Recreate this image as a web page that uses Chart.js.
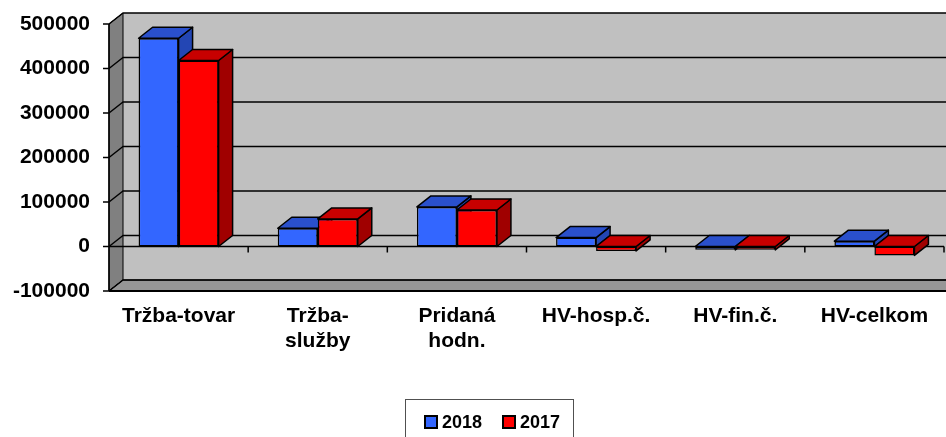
<!DOCTYPE html>
<html>
<head>
<meta charset="utf-8">
<script src="https://cdn.jsdelivr.net/npm/chart.js@4.4.1/dist/chart.umd.min.js"></script>
<style>
  html, body { margin: 0; padding: 0; background: #fff; }
  #chart { display: block; }
</style>
</head>
<body>
<canvas id="chart" width="946" height="437"></canvas>
<script>
const categories = [['Tržba-tovar'], ['Tržba-', 'služby'], ['Pridaná', 'hodn.'], ['HV-hosp.č.'], ['HV-fin.č.'], ['HV-celkom']];
const values2018 = [468000, 41000, 89000, 20000, -7500, 12000];
const values2017 = [418000, 62000, 82000, -10000, -7500, -20000];
const yTicks = [-100000, 0, 100000, 200000, 300000, 400000, 500000];
const seriesNames = ['2018', '2017'];

const FONT = '"Liberation Sans", Arial, sans-serif';
const DX = 14, DY = -11; // depth of the fake 3D box
const faces = [
    { front: '#3366ff', top: '#2a50cc', side: '#2346b4' },
    { front: '#ff0000', top: '#c80000', side: '#a00000' }
];

function poly(ctx, pts, fill) {
    ctx.beginPath();
    ctx.moveTo(pts[0][0], pts[0][1]);
    for (let i = 1; i < pts.length; i++) ctx.lineTo(pts[i][0], pts[i][1]);
    ctx.closePath();
    if (fill) { ctx.fillStyle = fill; ctx.fill(); }
    ctx.stroke();
}

// walls, floor, gridlines and the depth faces of the bars
const box3d = {
    id: 'box3d',
    beforeDatasetsDraw(chart) {
        const ctx = chart.ctx;
        const a = chart.chartArea;
        const y = chart.scales.y, x = chart.scales.x;
        const W = chart.width + 20;
        ctx.save();
        ctx.strokeStyle = '#000';
        ctx.lineJoin = 'round';

        // back wall
        ctx.fillStyle = '#c0c0c0';
        ctx.fillRect(a.left + DX, a.top + DY, W, a.bottom - a.top);
        ctx.lineWidth = 1;
        // left wall
        poly(ctx, [[a.left, a.top], [a.left + DX, a.top + DY], [a.left + DX, a.bottom + DY], [a.left, a.bottom]], '#808080');
        // floor
        poly(ctx, [[a.left, a.bottom], [a.left + DX, a.bottom + DY], [W, a.bottom + DY], [W, a.bottom]], '#969696');

        // gridlines on left + back wall, with ticks on the front axis
        ctx.lineWidth = 1.5;
        yTicks.forEach(v => {
            const py = y.getPixelForValue(v);
            ctx.beginPath();
            ctx.moveTo(a.left - 6, py);
            ctx.lineTo(a.left, py);
            ctx.lineTo(a.left + DX, py + DY);
            ctx.lineTo(W, py + DY);
            ctx.stroke();
        });

        // front value axis
        ctx.beginPath();
        ctx.moveTo(a.left, a.top);
        ctx.lineTo(a.left, a.bottom);
        ctx.stroke();

        // floor front edge
        ctx.lineWidth = 2;
        ctx.beginPath();
        ctx.moveTo(a.left, a.bottom);
        ctx.lineTo(W, a.bottom);
        ctx.stroke();

        // category axis at zero with tick marks between categories
        ctx.lineWidth = 1.5;
        const zy = y.getPixelForValue(0);
        const half = (x.getPixelForValue(1) - x.getPixelForValue(0)) / 2;
        ctx.beginPath();
        ctx.moveTo(a.left, zy);
        ctx.lineTo(a.right, zy);
        for (let i = 0; i < categories.length; i++) {
            const px = x.getPixelForValue(i) + half;
            ctx.moveTo(px, zy);
            ctx.lineTo(px, zy + 6);
        }
        ctx.stroke();

        // top and side faces of every bar
        ctx.lineWidth = 1.5;
        chart.data.datasets.forEach((ds, di) => {
            const meta = chart.getDatasetMeta(di);
            meta.data.forEach(el => {
                const p = el.getProps(['x', 'y', 'base', 'width'], true);
                const l = p.x - p.width / 2, r = p.x + p.width / 2;
                const t = Math.min(p.y, p.base), b = Math.max(p.y, p.base);
                poly(ctx, [[r, t], [r + DX, t + DY], [r + DX, b + DY], [r, b]], faces[di].side);
                poly(ctx, [[l, t], [l + DX, t + DY], [r + DX, t + DY], [r, t]], faces[di].top);
            });
        });
        ctx.restore();
    }
};

// legend with frame under the chart
const frameLegend = {
    id: 'frameLegend',
    afterDraw(chart) {
        const ctx = chart.ctx;
        const bx = 405, by = 399;
        ctx.save();
        ctx.strokeStyle = '#505050';
        ctx.lineWidth = 1;
        ctx.strokeRect(bx + 0.5, by + 0.5, 168, 60);
        ctx.font = 'bold 18px ' + FONT;
        ctx.textBaseline = 'middle';
        let px = bx + 20;
        chart.data.datasets.forEach((ds, i) => {
            ctx.fillStyle = ds.backgroundColor;
            ctx.lineWidth = 2;
            ctx.strokeStyle = '#000';
            ctx.fillRect(px, 416, 12, 12);
            ctx.strokeRect(px, 416, 12, 12);
            ctx.fillStyle = '#000';
            ctx.fillText(ds.label, px + 17, 423);
            px += 78;
        });
        ctx.restore();
    }
};

new Chart(document.getElementById('chart'), {
    type: 'bar',
    data: {
        labels: categories,
        datasets: [
            { label: seriesNames[0], data: values2018, backgroundColor: faces[0].front },
            { label: seriesNames[1], data: values2017, backgroundColor: faces[1].front }
        ]
    },
    options: {
        responsive: false,
        devicePixelRatio: 1,
        animation: false,
        layout: { padding: { top: 24, right: 2, left: 0, bottom: 0 } },
        datasets: {
            bar: {
                categoryPercentage: 0.575,
                barPercentage: 1,
                borderColor: '#000',
                borderWidth: 1.5,
                borderSkipped: false
            }
        },
        plugins: {
            legend: { display: false },
            tooltip: { enabled: false }
        },
        scales: {
            x: {
                grid: { display: false, drawTicks: false },
                border: { display: false },
                ticks: {
                    color: '#000',
                    padding: 12,
                    maxRotation: 0,
                    autoSkip: false,
                    font: { family: FONT, size: 21, weight: 'bold', lineHeight: 1.22 }
                },
                afterFit(scale) { scale.height = 146; }
            },
            y: {
                min: -100000,
                max: 500000,
                grid: { display: false, drawTicks: false },
                border: { display: false },
                ticks: {
                    stepSize: 100000,
                    color: '#000',
                    padding: 19,
                    // small lineHeight so the labels do not push the plot area down
                    font: { family: FONT, size: 21, weight: 'bold', lineHeight: 0.2 },
                    callback: v => String(v)
                },
                afterFit(scale) { scale.width = 109; }
            }
        }
    },
    plugins: [box3d, frameLegend]
});
</script>
</body>
</html>
